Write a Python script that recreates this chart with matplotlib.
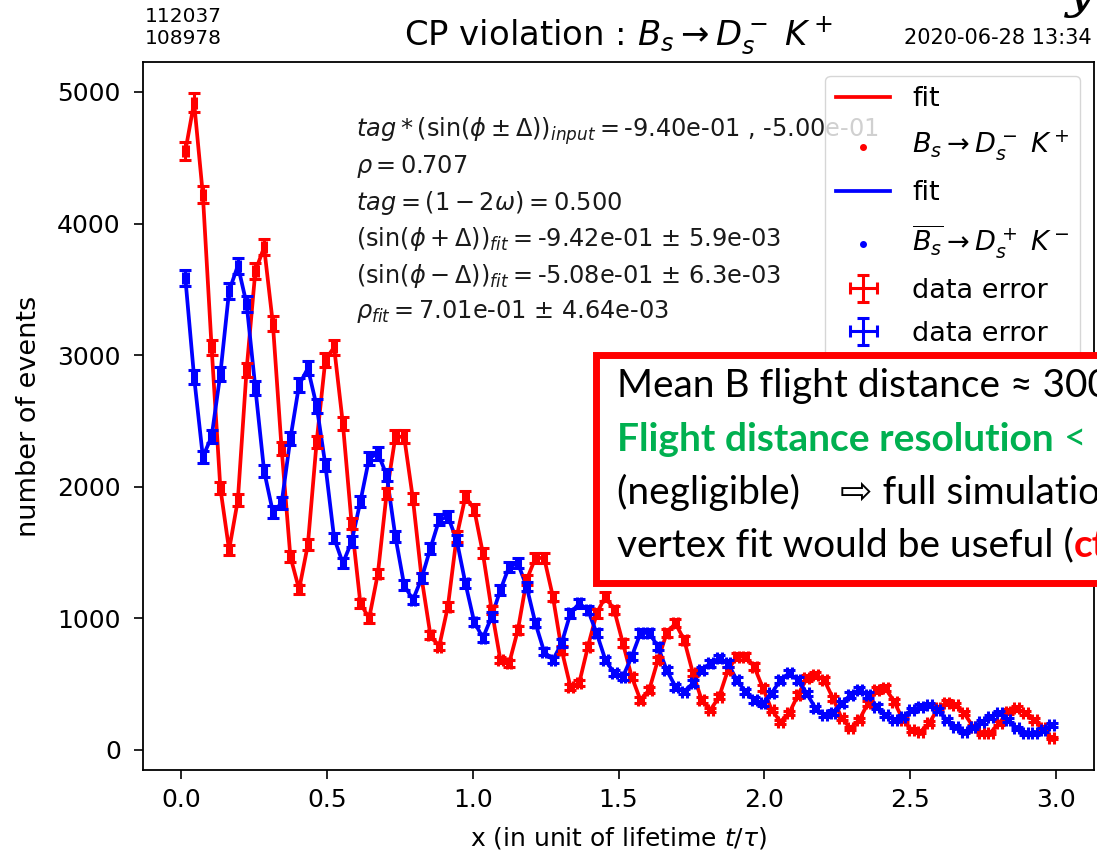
import numpy as np
import matplotlib.pyplot as plt
from matplotlib.patches import Rectangle
from matplotlib.text import Annotation

plt.rcParams['font.family'] = 'DejaVu Sans'
plt.rcParams['mathtext.fontset'] = 'dejavusans'

# 100 bins in units of the B_s lifetime
edges = np.linspace(0.0, 3.0, 101)
centers = 0.5 * (edges[1:] + edges[:-1])

# B_s -> Ds- K+ counts per bin
bs_counts = [
    4550, 4920, 4220, 3060, 1990, 1520, 1900, 2890, 3640, 3820,
    3240, 2290, 1470, 1220, 1560, 2340, 2965, 3060, 2480, 1720,
    1115, 1000, 1340, 1950, 2380, 2380, 1910, 1305, 875, 785,
    1090, 1620, 1925, 1830, 1494, 1064, 684, 659, 912, 1292,
    1459, 1459, 1165, 760, 481, 507, 785, 1038, 1165, 1064,
    811, 557, 380, 456, 684, 887, 963, 836, 583, 380,
    304, 405, 608, 709, 709, 633, 470, 304, 215, 279,
    418, 545, 570, 532, 393, 241, 165, 228, 355, 456,
    469, 367, 228, 152, 139, 203, 317, 359, 342, 279,
    177, 127, 132, 203, 291, 317, 279, 228, 165, 89,
]

# anti-B_s -> Ds+ K- counts per bin
bsbar_counts = [
    3585, 2833, 2228, 2380, 2858, 3488, 3680, 3390, 2750, 2120,
    1808, 1876, 2365, 2775, 2900, 2615, 2165, 1610, 1419, 1583,
    1887, 2216, 2254, 2090, 1621, 1254, 1140, 1305, 1532, 1748,
    1773, 1596, 1267, 975, 851, 1013, 1216, 1393, 1418, 1241,
    963, 747, 684, 811, 1038, 1114, 1064, 887, 684, 583,
    557, 709, 887, 892, 785, 608, 481, 443, 507, 608,
    659, 697, 659, 532, 443, 380, 355, 431, 532, 583,
    532, 431, 317, 266, 284, 355, 418, 456, 418, 329,
    266, 228, 253, 304, 329, 342, 304, 228, 177, 139,
    172, 215, 253, 279, 228, 165, 127, 127, 152, 190,
]

fit_lines = [
    r'$tag*(\sin(\phi \pm \Delta))_{input} = $-9.40e-01 , -5.00e-01',
    r'$\rho = $0.707',
    r'$tag = (1-2\omega) = $0.500',
    r'$(\sin(\phi+\Delta))_{fit} = $-9.42e-01 $\pm$ 5.9e-03',
    r'$(\sin(\phi-\Delta))_{fit} = $-5.08e-01 $\pm$ 6.3e-03',
    r'$\rho_{fit} = $7.01e-01 $\pm$ 4.64e-03',
]

bs = np.array(bs_counts, dtype=float)
bsbar = np.array(bsbar_counts, dtype=float)

fig = plt.figure(figsize=(10.97, 8.56), dpi=100)
ax = fig.add_axes([0.1304, 0.1005, 0.8669, 0.8271])

ax.plot(centers, bs, color='red', lw=2.7, label='fit')
ax.scatter(centers, bs, s=16, color='red', label=r'$B_s \to D_s^-\ K^+$')
ax.plot(centers, bsbar, color='blue', lw=2.7, label='fit')
ax.scatter(centers, bsbar, s=16, color='blue',
           label=r'$\overline{B_s} \to D_s^+\ K^-$')
ax.errorbar(centers, bs, xerr=0.008, yerr=np.sqrt(bs), fmt='none',
            ecolor='red', elinewidth=2.2, capsize=4, capthick=2.2,
            label='data error')
ax.errorbar(centers, bsbar, xerr=0.008, yerr=np.sqrt(bsbar), fmt='none',
            ecolor='blue', elinewidth=2.2, capsize=4, capthick=2.2,
            label='data error')

ax.set_xlim(-0.13, 3.13)
ax.set_ylim(-152, 5228)
ax.set_xticks(np.arange(0, 3.01, 0.5))
ax.set_yticks(np.arange(0, 5001, 1000))
ax.tick_params(labelsize=18, length=6.5, width=1.2)
ax.tick_params(axis='x', pad=6.5)
ax.tick_params(axis='y', pad=9.5)
for sp in ax.spines.values():
    sp.set_linewidth(1.3)

ax.set_xlabel(r'x (in unit of lifetime $t/\tau$)', fontsize=18, labelpad=9)
ax.set_ylabel('number of events', fontsize=19.5, labelpad=11)
ax.set_title(r'CP violation : $B_s \to D_s^-\ K^+$', fontsize=24.4, pad=11)

for k, line in enumerate(fit_lines):
    ax.text(0.6, 4705 - 275 * k, line, fontsize=17.3, color='#1a1a1a',
            va='center')

ax.legend(loc='upper right', fontsize=19.5, framealpha=0.8,
          labelspacing=0.62)

fig.text(145 / 1097, 1 - 7 / 856, '112037\n108978', fontsize=14.5,
         va='top', linespacing=1.2)
fig.text(1092 / 1097, 1 - 38 / 856, '2020-06-28 13:34', fontsize=15,
         ha='right', va='center')

# slide call-out box over the right part of the plot
box = Rectangle((596 / 1097, (856 - 583) / 856), 0.5, (583 - 355) / 856,
                transform=fig.transFigure, facecolor='white',
                edgecolor='red', lw=5, zorder=5, clip_on=False)
fig.add_artist(box)

slide_font = ['Lato', 'DejaVu Sans']
fs_box = 28
x0 = 617 / 1097
fig.text(x0, 1 - 397 / 856, 'Mean B flight distance \u2248 300',
         fontsize=fs_box, family=slide_font, va='baseline', zorder=6)
t2 = fig.text(x0, 1 - 451 / 856, 'Flight distance resolution',
              fontsize=fs_box, family=slide_font, va='baseline',
              color='#00B050', weight='bold', zorder=6)
fig.add_artist(Annotation(' <', xy=(1, 0), xycoords=t2, va='bottom',
                          fontsize=fs_box, family=slide_font,
                          color='#00B050', zorder=6))
fig.text(x0, 1 - 504 / 856, '(negligible)    \u21e8 full simulation',
         fontsize=fs_box, family=slide_font, va='baseline', zorder=6)
t4 = fig.text(x0, 1 - 556 / 856, 'vertex fit would be useful (',
              fontsize=fs_box, family=slide_font, va='baseline', zorder=6)
fig.add_artist(Annotation('ct', xy=(1, 0), xycoords=t4, va='bottom',
                          fontsize=fs_box, family=slide_font, color='red',
                          weight='bold', zorder=6))

fig.text(1066 / 1097, 1 - 6 / 856, 'y', fontsize=38, family='DejaVu Serif',
         style='italic', va='baseline')

fig.savefig('out.png', dpi=100)
